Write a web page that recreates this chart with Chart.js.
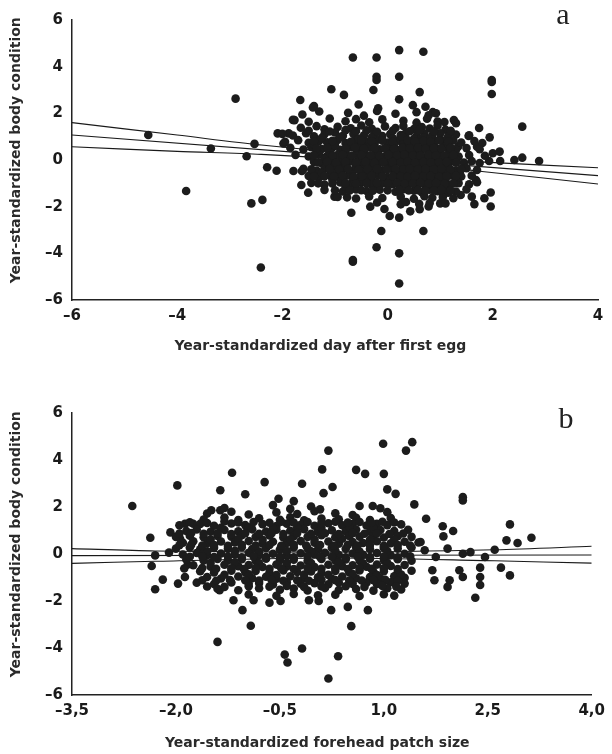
<!DOCTYPE html>
<html>
<head>
<meta charset="utf-8">
<script src="https://cdn.jsdelivr.net/npm/chart.js@4.4.1/dist/chart.umd.min.js"></script>
<style>
  html, body { margin: 0; padding: 0; background: #fff; }
  .panel { width: 612px; height: 377px; position: relative; }
</style>
</head>
<body>
<div class="panel"><canvas id="chart-a" width="612" height="377"></canvas></div>
<div class="panel"><canvas id="chart-b" width="612" height="377"></canvas></div>
<script>
// axis ticks
let yTicks = [-6, -4, -2, 0, 2, 4, 6];
let yTickLabels = ['\u20136', '\u20134', '\u20132', '0', '2', '4', '6'];
let xTicksA = [-6, -4, -2, 0, 2, 4];
let xTickLabelsA = ['\u20136', '\u20134', '\u20132', '0', '2', '4'];
let xTicksB = [-3.5, -2.0, -0.5, 1.0, 2.5, 4.0];
let xTickLabelsB = ['\u20133,5', '\u20132,0', '\u20130,5', '1,0', '2,5', '4,0'];

// panel a: day after first egg vs body condition
let pointsA = [
  [-4.55,1.07],[-3.83,-1.33],[-3.36,0.49],[-2.89,2.63],[-2.68,0.16],[-2.59,-1.86],[-2.53,0.69],[-2.38,-1.71],
  [-2.41,-4.61],[-2.29,-0.31],[-2.11,-0.46],[-2.09,1.14],[-1.98,0.71],[-1.88,1.14],[-1.79,-0.47],[-1.77,1.71],
  [-1.66,2.57],[-1.63,-0.47],[-1.64,-1.07],[-1.51,-1.40],[-1.40,2.31],[-1.07,3.03],[-1.01,-1.57],[-0.83,2.79],
  [-0.77,-1.60],[-0.69,-2.26],[-0.66,4.39],[-0.66,-4.29],[-0.66,-4.36],[-0.33,-2.00],[-0.21,4.39],[-0.21,3.57],
  [-0.21,3.43],[-0.21,-3.74],[-0.27,3.00],[-0.12,-3.04],[-0.06,-2.10],[0.04,-2.40],[0.22,4.71],[0.22,3.57],
  [0.22,2.60],[0.22,-2.47],[0.22,-4.00],[0.22,-5.29],[0.68,4.64],[0.61,2.91],[0.68,-3.04],[0.43,-2.20],
  [0.61,-2.11],[0.78,-1.99],[1.08,1.63],[1.26,1.71],[1.54,1.03],[1.74,1.37],[1.98,3.43],[1.98,3.34],
  [1.98,2.83],[1.94,0.97],[1.96,-1.39],[1.96,-1.99],[1.84,-1.64],[1.65,-1.89],[2.00,0.29],[2.13,0.36],
  [2.14,-0.04],[1.93,-0.04],[2.41,0.00],[2.56,0.10],[2.56,1.43],[2.88,-0.04],[1.68,-0.86],[1.70,0.57],
  [1.34,0.57],[1.37,-0.61],[1.39,-1.50],[1.15,-1.40],[1.00,-1.86],
  [-1.42,2.25],[-0.55,2.38],[-0.18,2.22],[0.48,2.35],[0.72,2.28],[0.86,2.05],
  [-1.62,1.95],[-1.3,2.08],[-0.75,2.02],[-0.45,1.9],[-0.2,2.1],[0.15,1.98],[0.55,2.05],[0.78,1.92],[0.92,2.0],
  [-1.8,1.72],[-1.5,1.64],[-1.1,1.78],[-0.8,1.66],[-0.6,1.75],[-0.35,1.62],[-0.1,1.74],[0.3,1.68],[0.55,1.6],[0.75,1.77],[0.95,1.65],[1.3,1.58],
  [-1.65,1.38],[-1.35,1.45],[-1.2,1.32],[-0.95,1.42],[-0.7,1.36],[-0.5,1.48],[-0.3,1.34],[-0.05,1.44],[0.15,1.37],[0.3,1.46],[0.5,1.33],[0.65,1.41],[0.8,1.35],[0.95,1.47],[1.1,1.3],
  [-2.0,1.12],[-1.8,1.05],[-1.55,1.15],[-1.4,1.02],[-1.2,1.1],[-1.0,1.18],[-0.85,1.04],[-0.65,1.12],[-0.45,1.06],[-0.25,1.16],[-0.1,1.03],[0.05,1.11],[0.25,1.07],[0.35,1.17],[0.55,1.02],[0.7,1.13],[0.85,1.05],[1.0,1.14],[1.15,1.01],[1.3,1.09],[1.55,1.06],
  [-1.95,0.78],[-1.7,0.85],[-1.5,0.74],[-1.3,0.82],[-1.15,0.76],[-0.95,0.86],[-0.8,0.73],[-0.6,0.81],[-0.4,0.77],[-0.2,0.87],[0.0,0.75],[0.2,0.83],[0.3,0.72],[0.45,0.8],[0.6,0.86],[0.75,0.74],[0.9,0.82],[1.05,0.77],[1.25,0.84],[1.4,0.75],[1.65,0.81],[1.8,0.73],
  [-1.85,0.52],[-1.6,0.45],[-1.45,0.55],[-1.25,0.47],[-1.05,0.53],[-0.9,0.44],[-0.7,0.56],[-0.55,0.48],[-0.35,0.54],[-0.15,0.46],[0.05,0.52],[0.2,0.43],[0.35,0.55],[0.5,0.49],[0.65,0.45],[0.8,0.53],[0.95,0.47],[1.1,0.56],[1.3,0.44],[1.5,0.51],[1.75,0.46],
  [-1.75,0.22],[-1.5,0.15],[-1.3,0.24],[-1.15,0.17],[-0.95,0.21],[-0.75,0.13],[-0.6,0.25],[-0.4,0.18],[-0.25,0.23],[-0.05,0.14],[0.1,0.22],[0.25,0.16],[0.4,0.26],[0.55,0.19],[0.7,0.12],[0.85,0.23],[1.0,0.17],[1.15,0.24],[1.35,0.15],[1.55,0.21],[1.85,0.18],
  [-1.4,-0.08],[-1.25,-0.14],[-1.05,-0.05],[-0.9,-0.12],[-0.7,-0.06],[-0.5,-0.15],[-0.35,-0.09],[-0.15,-0.04],[0.0,-0.13],[0.2,-0.07],[0.3,-0.16],[0.45,-0.1],[0.6,-0.03],[0.75,-0.12],[0.9,-0.08],[1.05,-0.14],[1.2,-0.06],[1.45,-0.11],[1.6,-0.05],[1.75,-0.13],
  [-1.6,-0.38],[-1.35,-0.45],[-1.2,-0.36],[-1.0,-0.42],[-0.85,-0.35],[-0.65,-0.46],[-0.45,-0.39],[-0.3,-0.33],[-0.1,-0.44],[0.05,-0.37],[0.25,-0.43],[0.35,-0.34],[0.5,-0.41],[0.65,-0.47],[0.8,-0.36],[0.95,-0.42],[1.1,-0.38],[1.3,-0.45],[1.5,-0.35],[1.7,-0.43],
  [-1.5,-0.68],[-1.3,-0.74],[-1.1,-0.65],[-0.95,-0.72],[-0.75,-0.66],[-0.55,-0.76],[-0.4,-0.69],[-0.2,-0.64],[0.0,-0.73],[0.2,-0.67],[0.3,-0.77],[0.45,-0.7],[0.6,-0.63],[0.75,-0.74],[0.9,-0.68],[1.05,-0.75],[1.2,-0.66],[1.4,-0.71],[1.6,-0.67],
  [-1.45,-0.98],[-1.2,-1.05],[-0.9,-0.96],[-0.7,-1.03],[-0.5,-0.95],[-0.3,-1.06],[-0.1,-0.99],[0.1,-1.04],[0.25,-0.94],[0.4,-1.02],[0.55,-1.07],[0.7,-0.97],[0.85,-1.03],[1.0,-0.96],[1.15,-1.05],[1.35,-0.99],[1.55,-1.04],[1.7,-0.95],
  [-1.2,-1.28],[-0.85,-1.35],[-0.6,-1.26],[-0.4,-1.33],[-0.15,-1.27],[0.15,-1.36],[0.3,-1.25],[0.5,-1.32],[0.65,-1.38],[0.8,-1.27],[0.95,-1.34],[1.1,-1.29],[1.3,-1.35],[1.5,-1.26],
  [-0.95,-1.58],[-0.6,-1.65],[-0.35,-1.56],[-0.1,-1.63],[0.25,-1.57],[0.5,-1.66],[0.7,-1.55],[0.85,-1.62],[1.05,-1.59],[1.25,-1.64],[1.6,-1.57],
  [-0.2,-1.82],[0.25,-1.9],[0.35,-1.8],[0.6,-1.88],[0.8,-1.84],[1.1,-1.86],
  [-1.25,0.95],[-0.9,0.98],[-0.55,0.92],[-0.3,0.97],[0.1,0.93],[0.28,0.99],[0.5,0.91],[0.68,0.96],[0.82,0.94],[1.0,0.9],
  [-1.4,0.65],[-1.0,0.62],[-0.75,0.68],[-0.5,0.63],[-0.25,0.67],[0.12,0.61],[0.3,0.66],[0.52,0.64],[0.7,0.69],[0.88,0.62],[1.15,0.66],
  [-1.35,0.35],[-1.1,0.32],[-0.8,0.38],[-0.45,0.33],[-0.2,0.36],[0.0,0.31],[0.3,0.37],[0.48,0.34],[0.62,0.39],[0.78,0.32],[0.92,0.36],[1.2,0.33],
  [-1.2,0.05],[-0.85,0.02],[-0.55,0.07],[-0.3,0.03],[0.05,0.06],[0.28,0.01],[0.5,0.08],[0.68,0.04],[0.82,0.0],[0.98,0.06],[1.3,0.03],
  [-1.1,-0.25],[-0.8,-0.22],[-0.6,-0.28],[-0.2,-0.24],[0.1,-0.27],[0.28,-0.21],[0.55,-0.26],[0.7,-0.23],[0.85,-0.29],[1.0,-0.22],[1.15,-0.27],
  [-1.25,-0.55],[-0.9,-0.58],[-0.5,-0.52],[-0.25,-0.57],[0.15,-0.54],[0.3,-0.59],[0.42,-0.53],[0.58,-0.56],[0.72,-0.51],[0.88,-0.58],[1.0,-0.54],[1.25,-0.57],
  [-1.05,-0.85],[-0.65,-0.82],[-0.3,-0.88],[0.05,-0.84],[0.28,-0.87],[0.5,-0.81],[0.65,-0.86],[0.8,-0.83],[0.95,-0.89],[1.1,-0.82],[1.3,-0.86],
  [-0.8,-1.15],[-0.2,-1.18],[0.3,-1.13],[0.55,-1.17],[0.72,-1.12],[0.9,-1.16],[1.05,-1.14],
  [-1.5,1.25],[-1.1,1.22],[-0.8,1.28],[-0.6,1.24],[-0.4,1.27],[-0.2,1.21],[0.1,1.26],[0.42,1.23],[0.6,1.28],[0.88,1.22],[1.2,1.25],
  [-1.4,0.8],[-1.05,0.82],[-0.7,0.78],[-0.5,0.84],[-0.3,0.79],[-0.1,0.83],[0.1,0.77],[0.38,0.85],[0.52,0.79],[0.68,0.81],[0.82,0.78],[0.98,0.84],[1.15,0.8],
  [-1.35,0.5],[-1.15,0.52],[-0.8,0.49],[-0.62,0.53],[-0.45,0.48],[-0.25,0.51],[-0.05,0.5],[0.12,0.47],[0.28,0.52],[0.42,0.5],[0.58,0.53],[0.72,0.49],[0.88,0.51],[1.02,0.48],[1.2,0.52],
  [-1.4,0.2],[-1.05,0.18],[-0.85,0.22],[-0.68,0.19],[-0.5,0.21],[-0.32,0.2],[-0.15,0.17],[0.02,0.21],[0.18,0.19],[0.32,0.23],[0.48,0.2],[0.62,0.18],[0.78,0.22],[0.92,0.2],[1.08,0.19],[1.25,0.21],
  [-1.32,-0.1],[-1.15,-0.08],[-0.98,-0.12],[-0.8,-0.09],[-0.6,-0.11],[-0.42,-0.07],[-0.25,-0.12],[-0.08,-0.1],[0.1,-0.09],[0.25,-0.11],[0.38,-0.08],[0.52,-0.12],[0.68,-0.09],[0.82,-0.11],[0.98,-0.1],[1.12,-0.08],[1.3,-0.12],
  [-1.45,-0.4],[-1.1,-0.39],[-0.92,-0.41],[-0.75,-0.38],[-0.55,-0.42],[-0.38,-0.4],[-0.2,-0.38],[-0.02,-0.41],[0.15,-0.39],[0.3,-0.4],[0.42,-0.38],[0.58,-0.41],[0.72,-0.39],[0.88,-0.4],[1.02,-0.38],[1.2,-0.41],[1.4,-0.39],
  [-1.4,-0.7],[-1.2,-0.69],[-1.02,-0.71],[-0.85,-0.68],[-0.65,-0.72],[-0.48,-0.7],[-0.3,-0.68],[-0.1,-0.71],[0.1,-0.69],[0.25,-0.7],[0.38,-0.72],[0.52,-0.68],[0.68,-0.71],[0.82,-0.69],[0.98,-0.72],[1.12,-0.7],[1.3,-0.68],
  [-1.32,-1.0],[-1.05,-1.01],[-0.8,-0.99],[-0.6,-1.02],[-0.4,-1.0],[-0.2,-0.98],[0.0,-1.01],[0.18,-0.99],[0.32,-1.02],[0.48,-1.0],[0.62,-0.98],[0.78,-1.01],[0.92,-0.99],[1.08,-1.02],[1.25,-1.0],
  [-1.0,-1.3],[-0.72,-1.31],[-0.5,-1.29],[-0.28,-1.32],[0.0,-1.3],[0.22,-1.28],[0.4,-1.31],[0.58,-1.29],[0.72,-1.32],[0.88,-1.3],[1.02,-1.28],[1.2,-1.31]
];
let fitXA = [-6, 4];
let fitA = [1.07, -0.67];
let bandXA = [-6, -4, -2.4, 0, 1.75, 4];
let bandUpA = [1.6, 1.07, 0.64, 0.15, -0.08, -0.33];
let bandLowA = [0.57, 0.37, 0.24, -0.09, -0.48, -1.03];

// panel b: forehead patch size vs body condition
let pointsB = [
  [-2.63,2.04],[-2.37,0.69],[-2.35,-0.51],[-2.30,-0.06],[-2.30,-1.50],[-2.19,-1.09],[-2.10,0.06],[-2.08,0.92],
  [-1.98,2.92],[-1.97,-1.26],[-1.94,0.65],[-1.87,1.29],[-1.87,-0.98],[-1.83,-0.45],[-1.75,1.29],[-1.49,1.86],
  [-1.40,-3.74],[-1.36,2.71],[-1.36,1.86],[-1.37,-1.54],[-1.19,3.46],[-1.17,-1.97],[-1.04,-2.39],[-1.00,2.54],
  [-0.92,-3.05],[-0.88,-1.97],[-0.72,3.06],[-0.65,-2.07],[-0.52,2.35],[-0.49,-2.00],[-0.43,-4.28],[-0.39,-4.62],
  [-0.30,2.25],[-0.18,2.99],[-0.18,-4.02],[-0.08,-1.97],[0.06,-2.00],[0.11,3.60],[0.20,4.40],[0.20,-5.30],
  [0.13,2.59],[0.26,2.85],[0.24,-2.39],[0.34,-4.35],[0.48,-2.25],[0.53,-3.07],[0.60,3.58],[0.73,3.41],
  [0.77,-2.39],[0.84,2.04],[0.99,4.69],[1.00,3.41],[1.05,2.75],[1.17,2.56],[1.32,4.40],[1.41,4.76],
  [1.44,2.11],[1.61,1.50],[1.85,1.18],[1.86,0.75],[2.00,0.98],[1.92,0.23],[2.14,2.42],[2.14,2.28],
  [2.14,0.01],[2.25,0.08],[2.32,-1.86],[2.39,-0.58],[2.39,-0.98],[2.39,-1.32],[2.46,-0.13],[2.60,0.18],
  [2.69,-0.58],[2.77,0.58],[2.82,1.26],[2.82,-0.91],[2.93,0.47],[3.13,0.69],[2.14,-0.98],[2.09,-0.69],
  [1.95,-1.12],[1.92,-1.40],[1.73,-1.12],[1.70,-0.69],[1.75,-0.13],[1.59,0.16],[1.53,0.51],
  [-1.3,1.96],[-0.6,2.08],[-0.35,1.92],[-0.05,2.02],[0.08,1.9],[0.65,2.04],[0.95,1.95],
  [-1.55,1.72],[-1.2,1.8],[-0.95,1.68],[-0.55,1.77],[-0.25,1.7],[0.0,1.82],[0.3,1.73],[0.55,1.66],[1.05,1.78],
  [-1.6,1.47],[-1.3,1.55],[-1.1,1.44],[-0.8,1.52],[-0.5,1.46],[-0.35,1.56],[-0.15,1.43],[0.1,1.51],[0.35,1.48],[0.6,1.54],[0.8,1.45],[1.1,1.53],
  [-1.95,1.22],[-1.65,1.28],[-1.45,1.2],[-1.2,1.3],[-1.0,1.23],[-0.75,1.27],[-0.55,1.19],[-0.4,1.29],[-0.2,1.24],[0.0,1.2],[0.2,1.31],[0.4,1.22],[0.55,1.27],[0.75,1.21],[0.9,1.29],[1.05,1.23],[1.25,1.26],
  [-1.85,0.98],[-1.7,1.04],[-1.5,0.95],[-1.3,1.02],[-1.1,0.97],[-0.9,1.05],[-0.7,0.96],[-0.55,1.03],[-0.35,0.99],[-0.15,1.06],[0.05,0.94],[0.25,1.01],[0.45,0.97],[0.6,1.04],[0.8,0.95],[0.95,1.02],[1.15,0.98],[1.35,1.03],
  [-2.0,0.73],[-1.8,0.78],[-1.6,0.71],[-1.4,0.77],[-1.2,0.74],[-1.05,0.8],[-0.85,0.72],[-0.65,0.79],[-0.45,0.7],[-0.3,0.76],[-0.1,0.73],[0.1,0.8],[0.3,0.71],[0.5,0.77],[0.65,0.74],[0.85,0.79],[1.0,0.7],[1.2,0.76],[1.4,0.73],
  [-1.9,0.48],[-1.75,0.54],[-1.55,0.46],[-1.35,0.53],[-1.15,0.49],[-0.95,0.55],[-0.75,0.45],[-0.6,0.52],[-0.4,0.47],[-0.2,0.55],[0.0,0.48],[0.2,0.53],[0.35,0.44],[0.55,0.51],[0.7,0.47],[0.9,0.54],[1.1,0.46],[1.3,0.52],[1.5,0.49],
  [-2.0,0.23],[-1.8,0.28],[-1.65,0.2],[-1.45,0.27],[-1.25,0.22],[-1.05,0.29],[-0.9,0.21],[-0.7,0.26],[-0.5,0.19],[-0.3,0.28],[-0.1,0.24],[0.05,0.2],[0.25,0.27],[0.45,0.22],[0.6,0.29],[0.8,0.21],[1.0,0.26],[1.2,0.23],[1.4,0.28],
  [-1.9,-0.02],[-1.7,0.04],[-1.55,-0.05],[-1.35,0.02],[-1.15,-0.03],[-0.95,0.05],[-0.8,-0.04],[-0.6,0.01],[-0.4,-0.06],[-0.2,0.03],[0.0,-0.01],[0.15,0.05],[0.35,-0.04],[0.55,0.02],[0.7,-0.03],[0.9,0.04],[1.1,-0.05],[1.3,0.01],
  [-1.85,-0.23],[-1.6,-0.28],[-1.4,-0.21],[-1.25,-0.27],[-1.05,-0.22],[-0.85,-0.29],[-0.7,-0.2],[-0.5,-0.26],[-0.3,-0.24],[-0.1,-0.3],[0.1,-0.21],[0.3,-0.27],[0.45,-0.23],[0.65,-0.28],[0.8,-0.2],[1.0,-0.26],[1.2,-0.22],[1.4,-0.29],
  [-1.75,-0.48],[-1.5,-0.54],[-1.3,-0.46],[-1.1,-0.52],[-0.95,-0.47],[-0.75,-0.55],[-0.55,-0.45],[-0.4,-0.53],[-0.2,-0.49],[0.0,-0.56],[0.2,-0.46],[0.4,-0.52],[0.55,-0.48],[0.75,-0.54],[0.9,-0.45],[1.1,-0.51],[1.3,-0.47],
  [-1.65,-0.73],[-1.45,-0.79],[-1.2,-0.71],[-1.0,-0.77],[-0.85,-0.72],[-0.65,-0.8],[-0.45,-0.7],[-0.25,-0.76],[-0.05,-0.74],[0.1,-0.81],[0.3,-0.72],[0.5,-0.78],[0.65,-0.7],[0.85,-0.76],[1.0,-0.73],[1.2,-0.79],[1.4,-0.71],
  [-1.55,-0.98],[-1.35,-1.04],[-1.1,-0.96],[-0.9,-1.03],[-0.7,-0.97],[-0.55,-1.05],[-0.35,-0.95],[-0.15,-1.02],[0.05,-0.99],[0.25,-1.06],[0.4,-0.96],[0.6,-1.03],[0.8,-0.98],[0.95,-1.04],[1.15,-0.95],[1.3,-1.01],
  [-1.7,-1.22],[-1.45,-1.28],[-1.2,-1.21],[-0.95,-1.27],[-0.8,-1.23],[-0.6,-1.3],[-0.4,-1.2],[-0.2,-1.26],[0.0,-1.24],[0.2,-1.29],[0.35,-1.21],[0.55,-1.27],[0.75,-1.22],[0.9,-1.28],[1.1,-1.2],[1.3,-1.26],
  [-1.4,-1.48],[-1.1,-1.54],[-0.8,-1.46],[-0.5,-1.52],[-0.3,-1.47],[-0.1,-1.55],[0.15,-1.45],[0.35,-1.53],[0.6,-1.49],[0.85,-1.56],[1.05,-1.46],[1.25,-1.51],
  [-0.95,-1.72],[-0.55,-1.78],[-0.3,-1.7],[0.05,-1.76],[0.3,-1.73],[0.65,-1.79],[1.0,-1.71],[1.15,-1.77],
  [-1.35,1.12],[-0.95,1.14],[-0.6,1.1],[-0.25,1.13],[0.1,1.11],[0.5,1.15],[0.85,1.1],
  [-1.5,0.62],[-1.1,0.64],[-0.75,0.6],[-0.35,0.63],[0.0,0.61],[0.4,0.65],[0.8,0.6],[1.15,0.63],
  [-1.55,0.12],[-1.15,0.14],[-0.8,0.1],[-0.4,0.13],[-0.05,0.11],[0.3,0.15],[0.65,0.1],[1.05,0.13],
  [-1.5,-0.38],[-1.15,-0.36],[-0.8,-0.4],[-0.4,-0.37],[-0.05,-0.39],[0.35,-0.35],[0.7,-0.4],[1.05,-0.37],
  [-1.3,-0.88],[-0.95,-0.86],[-0.55,-0.9],[-0.15,-0.87],[0.2,-0.89],[0.55,-0.85],[0.9,-0.9],[1.25,-0.87],
  [-1.0,-1.12],[-0.45,-1.14],[0.1,-1.1],[0.5,-1.13],[0.85,-1.11],
  [-1.8,1.35],[-1.55,1.32],[-1.3,1.38],[-1.1,1.34],[-0.88,1.36],[-0.65,1.33],[-0.48,1.37],[-0.3,1.34],[-0.1,1.36],[0.1,1.33],[0.3,1.37],[0.48,1.34],[0.65,1.36],[0.82,1.33],[0.98,1.37],[1.15,1.34],
  [-1.95,0.87],[-1.78,0.89],[-1.6,0.86],[-1.4,0.88],[-1.2,0.85],[-1.0,0.89],[-0.8,0.86],[-0.62,0.88],[-0.45,0.85],[-0.25,0.89],[-0.05,0.86],[0.15,0.88],[0.35,0.85],[0.55,0.89],[0.72,0.86],[0.9,0.88],[1.08,0.85],[1.28,0.87],
  [-1.95,0.37],[-1.78,0.39],[-1.62,0.36],[-1.45,0.38],[-1.25,0.35],[-1.05,0.39],[-0.85,0.36],[-0.65,0.38],[-0.48,0.35],[-0.3,0.39],[-0.12,0.36],[0.08,0.38],[0.28,0.35],[0.48,0.39],[0.62,0.36],[0.8,0.38],[1.0,0.35],[1.2,0.38],[1.38,0.36],
  [-1.8,-0.12],[-1.62,-0.1],[-1.45,-0.13],[-1.25,-0.11],[-1.05,-0.14],[-0.88,-0.1],[-0.7,-0.13],[-0.5,-0.11],[-0.3,-0.14],[-0.1,-0.1],[0.08,-0.13],[0.25,-0.11],[0.45,-0.14],[0.62,-0.1],[0.8,-0.13],[1.0,-0.11],[1.2,-0.14],[1.38,-0.1],
  [-1.88,-0.62],[-1.62,-0.6],[-1.42,-0.63],[-1.2,-0.61],[-1.02,-0.64],[-0.85,-0.6],[-0.65,-0.63],[-0.48,-0.61],[-0.3,-0.64],[-0.1,-0.6],[0.1,-0.63],[0.3,-0.61],[0.48,-0.64],[0.65,-0.6],[0.82,-0.63],[1.0,-0.61],[1.2,-0.64],
  [-1.62,-1.12],[-1.42,-1.14],[-1.22,-1.11],[-0.8,-1.13],[-0.62,-1.1],[-0.25,-1.12],[-0.08,-1.14],[0.3,-1.11],[0.68,-1.13],[1.02,-1.1],[1.2,-1.14],
  [-1.55,-1.38],[-1.3,-1.4],[-0.95,-1.37],[-0.65,-1.39],[-0.4,-1.36],[-0.15,-1.4],[0.1,-1.38],[0.45,-1.37],[0.72,-1.4],[0.98,-1.36],[1.18,-1.39]
];
let fitXB = [-3.5, 4.0];
let fitB = [-0.07, -0.04];
let bandXB = [-3.5, -2.3, 0.2, 2.6, 4.0];
let bandUpB = [0.23, 0.13, 0.08, 0.18, 0.33];
let bandLowB = [-0.40, -0.31, -0.17, -0.29, -0.39];

const tick_font = { family: 'DejaVu Sans', weight: 'bold', size: 15 };
const title_font = { family: 'DejaVu Sans', weight: 'bold', size: 14 };

const panel_letter = {
    id: 'panelLetter',
    afterDraw(chart, args, opts) {
        let ctx = chart.ctx;
        ctx.save();
        ctx.font = '30px "Liberation Serif", "DejaVu Serif", serif';
        ctx.fillStyle = '#222';
        ctx.textAlign = 'center';
        ctx.textBaseline = 'middle';
        ctx.fillText(opts.text, opts.x, opts.y);
        ctx.restore();
    }
};

function to_xy(xs, ys) {
    return xs.map((x, i) => ({ x: x, y: ys[i] }));
}

function line_ds(xs, ys) {
    return {
        type: 'line',
        data: to_xy(xs, ys),
        borderColor: '#1a1a1a',
        borderWidth: 1.1,
        pointRadius: 0,
        fill: false,
        tension: 0.3,
        order: 2
    };
}

function make_panel(id, cfg) {
    let ctx = document.getElementById(id);
    return new Chart(ctx, {
        type: 'scatter',
        data: {
            datasets: [
                {
                    data: cfg.points.map(p => ({ x: p[0], y: p[1] })),
                    backgroundColor: '#1c1c1c',
                    borderWidth: 0,
                    pointRadius: 4.3,
                    pointHoverRadius: 4.3,
                    order: 1
                },
                line_ds(cfg.fitX, cfg.fit),
                line_ds(cfg.bandX, cfg.bandUp),
                line_ds(cfg.bandX, cfg.bandLow)
            ]
        },
        options: {
            responsive: false,
            animation: false,
            layout: { padding: { left: 0, top: cfg.top, right: 14, bottom: 0 } },
            scales: {
                x: {
                    type: 'linear',
                    min: cfg.xTicks[0],
                    max: cfg.xTicks[cfg.xTicks.length - 1],
                    afterBuildTicks: s => { s.ticks = cfg.xTicks.map(v => ({ value: v })); },
                    afterFit: s => { s.height = cfg.xHeight; },
                    ticks: {
                        callback: (v, i) => cfg.xLabels[i],
                        font: tick_font,
                        color: '#1a1a1a',
                        padding: 7,
                        maxRotation: 0,
                        autoSkip: false
                    },
                    grid: { display: false, drawTicks: false },
                    border: { display: true, color: '#222', width: 1.5 },
                    title: {
                        display: true,
                        // trailing spaces nudge the centred title a bit to the left, as in the figure
                        text: cfg.xTitle + '      ',
                        font: title_font,
                        color: '#2a2a2a',
                        padding: { top: 0, bottom: cfg.xTitlePad }
                    }
                },
                y: {
                    type: 'linear',
                    min: -6,
                    max: 6,
                    afterBuildTicks: s => { s.ticks = yTicks.map(v => ({ value: v })); },
                    afterFit: s => { s.width = 72; },
                    ticks: {
                        callback: (v, i) => yTickLabels[i],
                        font: tick_font,
                        color: '#1a1a1a',
                        padding: 9,
                        autoSkip: false
                    },
                    grid: { display: false, drawTicks: false },
                    border: { display: true, color: '#222', width: 1.5 },
                    title: {
                        display: true,
                        text: '    Year-standardized body condition',
                        font: title_font,
                        color: '#2a2a2a',
                        padding: { top: 8, bottom: 0 }
                    }
                }
            },
            plugins: {
                legend: { display: false },
                tooltip: { enabled: false },
                panelLetter: cfg.letter
            }
        },
        plugins: [panel_letter]
    });
}

make_panel('chart-a', {
    points: pointsA, fitX: fitXA, fit: fitA, bandX: bandXA, bandUp: bandUpA, bandLow: bandLowA,
    xTicks: xTicksA, xLabels: xTickLabelsA, xTitle: 'Year-standardized day after first egg',
    top: 20, xHeight: 77, xTitlePad: 22,
    letter: { text: 'a', x: 563, y: 16 }
});
make_panel('chart-b', {
    points: pointsB, fitX: fitXB, fit: fitB, bandX: bandXB, bandUp: bandUpB, bandLow: bandLowB,
    xTicks: xTicksB, xLabels: xTickLabelsB, xTitle: 'Year-standardized forehead patch size',
    top: 36, xHeight: 59, xTitlePad: 2,
    letter: { text: 'b', x: 566, y: 43 }
});
</script>
</body>
</html>
